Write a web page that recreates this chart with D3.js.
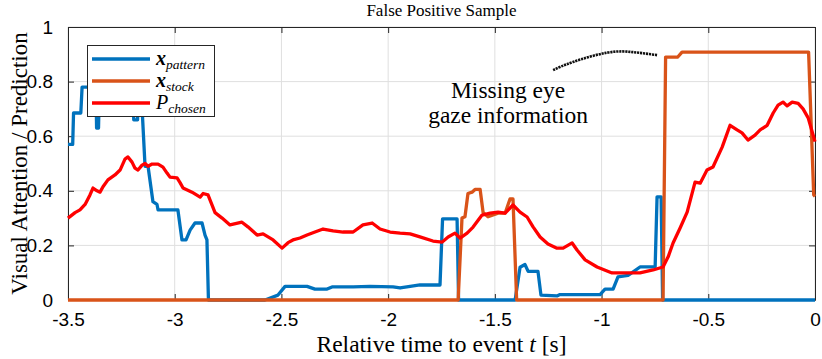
<!DOCTYPE html>
<html>
<head>
<meta charset="utf-8">
<script src="https://cdn.jsdelivr.net/npm/d3@7"></script>
<style>
  html, body { margin: 0; padding: 0; background: #fff; }
  svg { display: block; }
  .serif { font-family: "Liberation Serif", "Times New Roman", serif; }
  .sans { font-family: "Liberation Sans", Arial, Helvetica, sans-serif; }
</style>
</head>
<body>
<svg id="chart" width="822" height="359"></svg>
<script>
// ---------- data ----------
const xTicks = [-3.5, -3, -2.5, -2, -1.5, -1, -0.5, 0];
const yTicks = [0, 0.2, 0.4, 0.6, 0.8, 1];
const xTickLabels = ["-3.5", "-3", "-2.5", "-2", "-1.5", "-1", "-0.5", "0"];
const yTickLabels = ["0", "0.2", "0.4", "0.6", "0.8", "1"];

const seriesNames = ["pattern", "stock", "chosen"];
const seriesColors = ["#0072BD", "#D95319", "#FF0000"];

const patternT = [-3.5, -3.478, -3.474, -3.44, -3.434, -3.369, -3.366, -3.357, -3.353, -3.195, -3.192, -3.174, -3.171, -3.158, -3.139, -3.125, -3.102, -3.083, -3.078, -2.985, -2.966, -2.947, -2.928, -2.905, -2.872, -2.858, -2.849, -2.842, -2.577, -2.516, -2.483, -2.38, -2.343, -2.286, -2.263, -2.164, -2.085, -1.977, -1.944, -1.897, -1.851, -1.757, -1.745, -1.677, -1.67, -1.405, -1.382, -1.359, -1.344, -1.298, -1.284, -1.209, -1.195, -1.007, -0.984, -0.946, -0.923, -0.876, -0.852, -0.82, -0.749, -0.74, -0.721, -0.714, 0];
const patternV = [0.57, 0.57, 0.685, 0.685, 0.78, 0.78, 0.63, 0.63, 0.78, 0.78, 0.66, 0.66, 0.78, 0.78, 0.49, 0.49, 0.36, 0.35, 0.33, 0.33, 0.22, 0.22, 0.256, 0.282, 0.282, 0.238, 0.22, 0, 0, 0.018, 0.05, 0.05, 0.04, 0.04, 0.048, 0.048, 0.05, 0.048, 0.044, 0.05, 0.055, 0.055, 0.297, 0.297, 0, 0, 0.12, 0.13, 0.105, 0.105, 0.018, 0.015, 0.02, 0.02, 0.04, 0.04, 0.085, 0.09, 0.103, 0.121, 0.121, 0.378, 0.378, 0, 0];

const stockT = [-3.5, -1.672, -1.654, -1.64, -1.626, -1.607, -1.593, -1.569, -1.555, -1.532, -1.485, -1.452, -1.429, -1.415, -1.398, -0.712, -0.7, -0.643, -0.623, -0.03, -0.006, 0];
const stockV = [0, 0, 0.30, 0.305, 0.39, 0.395, 0.405, 0.405, 0.32, 0.305, 0.318, 0.318, 0.37, 0.37, 0, 0, 0.89, 0.89, 0.908, 0.908, 0.385, 0.38];

const chosenT = [-3.5, -3.467, -3.444, -3.42, -3.397, -3.383, -3.364, -3.35, -3.336, -3.313, -3.28, -3.256, -3.233, -3.219, -3.2, -3.186, -3.172, -3.153, -3.139, -3.125, -3.106, -3.078, -3.055, -3.036, -3.022, -2.989, -2.975, -2.961, -2.919, -2.881, -2.867, -2.844, -2.811, -2.778, -2.741, -2.685, -2.657, -2.614, -2.586, -2.539, -2.497, -2.469, -2.446, -2.413, -2.38, -2.343, -2.305, -2.258, -2.211, -2.164, -2.118, -2.075, -2.038, -1.991, -1.944, -1.897, -1.851, -1.79, -1.747, -1.719, -1.687, -1.663, -1.63, -1.602, -1.56, -1.522, -1.485, -1.452, -1.415, -1.382, -1.349, -1.321, -1.288, -1.251, -1.209, -1.18, -1.138, -1.115, -1.077, -1.021, -0.951, -0.881, -0.82, -0.759, -0.712, -0.688, -0.665, -0.632, -0.599, -0.562, -0.538, -0.506, -0.478, -0.435, -0.398, -0.365, -0.342, -0.314, -0.281, -0.257, -0.224, -0.196, -0.173, -0.15, -0.131, -0.107, -0.079, -0.056, -0.032, 0];
const chosenV = [0.30, 0.32, 0.33, 0.35, 0.385, 0.41, 0.40, 0.395, 0.415, 0.44, 0.458, 0.476, 0.516, 0.524, 0.505, 0.483, 0.476, 0.494, 0.50, 0.49, 0.498, 0.498, 0.487, 0.465, 0.45, 0.447, 0.43, 0.41, 0.395, 0.377, 0.39, 0.385, 0.32, 0.30, 0.275, 0.285, 0.268, 0.238, 0.242, 0.22, 0.19, 0.21, 0.22, 0.227, 0.238, 0.249, 0.26, 0.253, 0.249, 0.249, 0.275, 0.282, 0.26, 0.249, 0.245, 0.242, 0.231, 0.216, 0.212, 0.231, 0.245, 0.227, 0.245, 0.267, 0.311, 0.318, 0.322, 0.318, 0.348, 0.322, 0.304, 0.268, 0.231, 0.205, 0.19, 0.19, 0.209, 0.183, 0.147, 0.121, 0.099, 0.099, 0.099, 0.11, 0.121, 0.158, 0.209, 0.264, 0.322, 0.432, 0.428, 0.476, 0.487, 0.56, 0.64, 0.623, 0.612, 0.586, 0.604, 0.623, 0.64, 0.685, 0.714, 0.725, 0.711, 0.725, 0.72, 0.70, 0.667, 0.58];

const arcT = [-1.227, -1.134, -0.974, -0.852, -0.74];
const arcV = [0.842, 0.872, 0.906, 0.908, 0.897];

const titleText = "False Positive Sample";
const xLabelText = "Relative time to event ";
const yLabelText = "Visual Attention / Prediction";
const noteLines = ["Missing eye", "gaze information"];
const noteAt = [-1.438, 0.74];

// ---------- layout ----------
const svg = d3.select("#chart");
const L = 68, R = 815, T = 27, B = 300;
const x = d3.scaleLinear().domain([-3.5, 0]).range([L, R]);
const y = d3.scaleLinear().domain([0, 1]).range([B, T]);
const axisColor = "#262626";

// grid
const grid = svg.append("g");
grid.selectAll("line.gx").data(xTicks).enter().append("line")
  .attr("x1", d => x(d)).attr("x2", d => x(d)).attr("y1", T).attr("y2", B)
  .attr("stroke", "#dfdfdf").attr("stroke-width", 1);
grid.selectAll("line.gy").data(yTicks).enter().append("line")
  .attr("x1", L).attr("x2", R).attr("y1", d => y(d)).attr("y2", d => y(d))
  .attr("stroke", "#dfdfdf").attr("stroke-width", 1);

// axes (box with inward ticks)
const fmtX = (d, i) => xTickLabels[i];
const fmtY = (d, i) => yTickLabels[i];
const axB = svg.append("g").attr("transform", `translate(0,${B})`)
  .call(d3.axisBottom(x).tickValues(xTicks).tickFormat(fmtX).tickSizeInner(-6).tickSizeOuter(0).tickPadding(13));
const axT = svg.append("g").attr("transform", `translate(0,${T})`)
  .call(d3.axisTop(x).tickValues(xTicks).tickFormat("").tickSizeInner(-6).tickSizeOuter(0));
const axL = svg.append("g").attr("transform", `translate(${L},0)`)
  .call(d3.axisLeft(y).tickValues(yTicks).tickFormat(fmtY).tickSizeInner(-6).tickSizeOuter(0).tickPadding(15));
const axR = svg.append("g").attr("transform", `translate(${R},0)`)
  .call(d3.axisRight(y).tickValues(yTicks).tickFormat("").tickSizeInner(-6).tickSizeOuter(0));
[axB, axT, axL, axR].forEach(a => {
  a.attr("font-family", null);
  a.select(".domain").attr("stroke", axisColor).attr("stroke-width", 1);
  a.selectAll(".tick line").attr("stroke", axisColor);
  a.selectAll(".tick text").attr("class", "sans").attr("fill", "#000").attr("font-size", 19);
});

// lines
const line = d3.line().x(d => x(d[0])).y(d => y(d[1]));
const seriesData = [
  d3.zip(patternT, patternV),
  d3.zip(stockT, stockV),
  d3.zip(chosenT, chosenV)
];
svg.append("g").selectAll("path").data(seriesData).enter().append("path")
  .attr("d", line)
  .attr("fill", "none")
  .attr("stroke", (d, i) => seriesColors[i])
  .attr("stroke-width", 3.3)
  .attr("stroke-linejoin", "round");

// annotation arc + text
const arcLine = d3.line().x(d => x(d[0])).y(d => y(d[1])).curve(d3.curveNatural);
svg.append("path").attr("d", arcLine(d3.zip(arcT, arcV)))
  .attr("fill", "none").attr("stroke", "#111").attr("stroke-width", 2.6)
  .attr("stroke-dasharray", "2.2,0.8");
svg.append("g").selectAll("text").data(noteLines).enter().append("text")
  .attr("class", "serif")
  .attr("x", x(noteAt[0])).attr("y", (d, i) => y(noteAt[1]) + i * 25)
  .attr("text-anchor", "middle").attr("font-size", 23.5)
  .attr("fill", "#000").text(d => d);

// title and labels
svg.append("text").attr("class", "serif").attr("x", (L + R) / 2).attr("y", 16).attr("text-anchor", "middle")
  .attr("font-size", 17).attr("fill", "#000").text(titleText);
const xl = svg.append("text").attr("class", "serif").attr("x", (L + R) / 2).attr("y", 352).attr("text-anchor", "middle")
  .attr("font-size", 23.5).attr("fill", "#000");
xl.append("tspan").text(xLabelText);
xl.append("tspan").attr("font-style", "italic").text("t");
xl.append("tspan").text(" [s]");
svg.append("text").attr("class", "serif").attr("transform", `translate(27,${(T + B) / 2}) rotate(-90)`)
  .attr("text-anchor", "middle").attr("font-size", 23)
  .attr("fill", "#000").text(yLabelText);

// legend
const lg = svg.append("g");
lg.append("rect").attr("x", 87.5).attr("y", 45.5).attr("width", 127).attr("height", 71)
  .attr("fill", "#fff").attr("stroke", axisColor).attr("stroke-width", 1);
const legendMain = ["x", "x", "P"];
const rows = lg.selectAll("g.row").data(seriesNames).enter().append("g")
  .attr("transform", (d, i) => `translate(0,${59 + i * 22})`);
rows.append("line").attr("x1", 92).attr("x2", 150).attr("y1", 0).attr("y2", 0)
  .attr("stroke", (d, i) => seriesColors[i]).attr("stroke-width", 3.3);
const lt = rows.append("text").attr("class", "serif").attr("x", 156).attr("y", 6)
  .attr("fill", "#000");
lt.append("tspan").attr("font-size", 20).attr("font-style", "italic")
  .attr("font-weight", (d, i) => i < 2 ? "bold" : "normal")
  .text((d, i) => legendMain[i]);
lt.append("tspan").attr("font-size", 13.5).attr("font-style", "italic").attr("dy", 4)
  .text(d => d);
</script>
</body>
</html>
